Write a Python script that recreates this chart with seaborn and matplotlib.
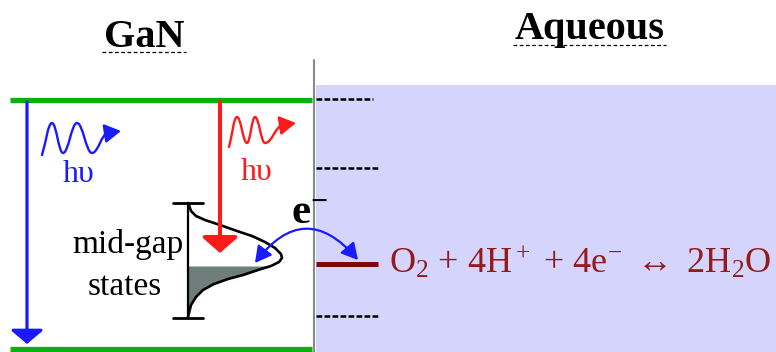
import numpy as np
import pandas as pd
import matplotlib
matplotlib.use("Agg")
import matplotlib.pyplot as plt
from matplotlib.patches import FancyArrowPatch, Rectangle
from matplotlib.path import Path
import seaborn as sns

# --- geometry of the diagram (pixel units, y grows downward) ---
band_x = [10, 312]           # GaN band edges span
cb_y = 100                   # conduction band edge
vb_y = 349                   # valence band edge
interface_x = 314
water_top = 85

level_y = [99, 168, 316]     # dashed levels on the aqueous side
level_x_end = [373, 378, 378]
redox_y = 264
redox_x = [316, 378]

# mid-gap density of states (x, y)
dos_x = [188, 189, 191, 196, 205, 220, 237, 252, 265, 275, 281, 282, 279,
         271, 258, 243, 228, 214, 203, 196, 191, 189, 188]
dos_y = [203, 205, 211, 216, 220, 225, 231, 236, 242, 248, 254, 258, 262,
         266, 270, 275, 279, 284, 290, 297, 305, 313, 317]
fermi_y = 266
dos_base_x = 188

# photon waves: extrema of the wiggles, last point = arrow tip
blue_wave_x = [42, 52, 63, 77, 92, 108, 121]
blue_wave_y = [155, 123, 153, 123, 153, 133, 131]
red_wave_x = [229, 237, 247, 255, 265, 283, 296]
red_wave_y = [147, 117, 143, 117, 143, 125, 123]

# absorption arrows: (x, y_start, y_end)
blue_arrow = (27, 102, 344)
red_arrow = (220, 102, 253)

# electron transfer arc
etrans_a = (255, 263)
etrans_b = (358, 260)

GREEN = "#0CB00C"
BLUE = "#1A1AFF"
RED = "#FF1A1A"
DARKRED = "#7A0A0A"
EQ_RED = "#921C1C"
SHADE = "#D4D4FC"
DOS_FILL = "#6F7E7A"

sns.set_style("white")
plt.rcParams["font.family"] = ["Liberation Serif", "DejaVu Serif"]
plt.rcParams["text.color"] = "black"
plt.rcParams["mathtext.fontset"] = "custom"
plt.rcParams["mathtext.rm"] = "Liberation Serif"
plt.rcParams["mathtext.it"] = "Liberation Serif:italic"
plt.rcParams["mathtext.bf"] = "Liberation Serif:bold"

fig = plt.figure(figsize=(7.76, 3.52), dpi=100)
ax = fig.add_axes([0, 0, 1, 1])
ax.set_xlim(0, 776)
ax.set_ylim(352, 0)
ax.axis("off")

# aqueous background
ax.add_patch(Rectangle((interface_x + 2, water_top), 776 - interface_x, 352 - water_top,
                       facecolor=SHADE, edgecolor="none", zorder=0))
ax.plot([interface_x, interface_x], [60, 352], color="#8A8A8A", lw=1.5, zorder=1)

# band edges
ax.plot(band_x, [cb_y, cb_y], color=GREEN, lw=3.8, solid_capstyle="butt")
ax.plot(band_x, [vb_y, vb_y], color=GREEN, lw=3.8, solid_capstyle="butt")

# dashed reference levels
for y, xe in zip(level_y, level_x_end):
    ax.plot([interface_x + 2, xe], [y, y], color="black", lw=1.8,
            dashes=(2.3, 0.9))
ax.plot(redox_x, [redox_y, redox_y], color=DARKRED, lw=3.6, solid_capstyle="butt")

# mid-gap states
dos = pd.DataFrame({"x": dos_x, "y": dos_y})
filled = dos[dos["y"] >= fermi_y]
ax.fill_betweenx(filled["y"], dos_base_x, filled["x"], color=DOS_FILL, lw=0, zorder=2)
sns.lineplot(data=dos, x="x", y="y", sort=False, estimator=None, color="black",
             lw=1.9, ax=ax, zorder=3)
ax.plot([dos_base_x, dos_base_x], [dos_y[0], dos_y[-1]], color="black", lw=1.6, zorder=3)
ax.plot([173, 203], [dos_y[0], dos_y[0]], color="black", lw=2.0, zorder=3)
ax.plot([173, 203], [dos_y[-1] + 1, dos_y[-1] + 1], color="black", lw=2.0, zorder=3)
ax.set_xlim(0, 776)
ax.set_ylim(352, 0)
ax.set_xlabel("")
ax.set_ylabel("")

# vertical absorption arrows
for (x, y0, y1), c, lw, hw, hl in [(blue_arrow, BLUE, 2.3, 0.5, 0.42),
                                   (red_arrow, RED, 2.9, 0.55, 0.48)]:
    ax.add_patch(FancyArrowPatch((x, y0), (x, y1),
                                 arrowstyle=f"-|>,head_width={hw},head_length={hl}",
                                 mutation_scale=20, color=c, lw=lw,
                                 shrinkA=0, shrinkB=0, zorder=4))


def wave_path(xs, ys):
    verts = [(xs[0], ys[0])]
    codes = [Path.MOVETO]
    for i in range(1, len(xs) - 1):
        x0, y0 = xs[i - 1], ys[i - 1]
        x1, y1 = xs[i], ys[i]
        dx = x1 - x0
        verts += [(x0 + 0.4 * dx, y0 if i > 1 else y0 - 0.4 * (y0 - y1)),
                  (x1 - 0.4 * dx, y1), (x1, y1)]
        codes += [Path.CURVE4] * 3
    verts.append((xs[-1], ys[-1]))
    codes.append(Path.LINETO)
    return Path(verts, codes)


for xs, ys, c in [(blue_wave_x, blue_wave_y, BLUE), (red_wave_x, red_wave_y, RED)]:
    ax.add_patch(FancyArrowPatch(path=wave_path(xs, ys),
                                 arrowstyle="-|>,head_width=0.32,head_length=0.55",
                                 mutation_scale=18, color=c, lw=1.7,
                                 joinstyle="round", capstyle="round", zorder=4))

ax.text(79, 182, "hυ", color=BLUE, fontsize=23, ha="center", va="baseline")
ax.text(257, 180, "hυ", color=RED, fontsize=23, ha="center", va="baseline")

# electron transfer
ax.add_patch(FancyArrowPatch(etrans_a, etrans_b, connectionstyle="arc3,rad=-0.62",
                             arrowstyle="<|-|>,head_width=0.3,head_length=0.55",
                             mutation_scale=18, color=BLUE, lw=1.6,
                             shrinkA=0, shrinkB=0, zorder=5))
ax.text(291, 224, r"$\mathbf{e}^{\mathbf{-}}$", fontsize=31, color="black",
        ha="left", va="baseline", zorder=5)

# labels
ax.text(184, 253, "mid-gap", fontsize=24, ha="right", va="baseline")
ax.text(125, 295, "states", fontsize=24, ha="center", va="baseline")

ax.text(144, 47, "GaN", fontsize=29, fontweight="bold", ha="center", va="baseline")
ax.plot([102, 186], [52, 52], color="black", lw=0.9, dashes=(3, 2))
ax.text(590, 39, "Aqueous", fontsize=29, fontweight="bold", ha="center", va="baseline")
ax.plot([513, 666], [45, 45], color="black", lw=0.9, dashes=(3, 2))

ax.text(389, 273, r"O$_2$ + 4H$^+$ + 4e$^{-}$ $\leftrightarrow$ 2H$_2$O",
        fontsize=26, color=EQ_RED, ha="left", va="baseline")

fig.savefig("out.png", dpi=100)
